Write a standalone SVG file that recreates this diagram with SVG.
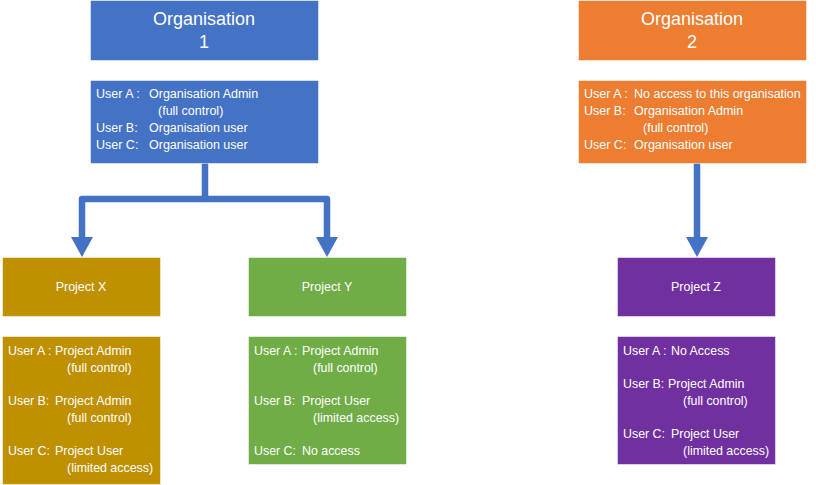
<svg xmlns="http://www.w3.org/2000/svg" width="816" height="485" viewBox="0 0 816 485">
<style>
  text { font-family: "Liberation Sans", Arial, sans-serif; fill: #ffffff; }
  .title { font-size: 18px; text-anchor: middle; }
  .det { font-size: 12.5px; }
  .pt { font-size: 12.5px; text-anchor: middle; }
  .pd { font-size: 12.4px; }
  .box { stroke: #ffffff; stroke-opacity: 0.5; stroke-width: 1; }
  .blue { fill: #4472C4; }
  .orange { fill: #ED7D31; }
  .gold { fill: #BF9000; }
  .green { fill: #70AD47; }
  .purple { fill: #7030A0; }
  .conn { fill: none; stroke: #4472C4; stroke-width: 6.5; stroke-linejoin: round; }
  .head { fill: #4472C4; }
</style>
<rect width="816" height="485" fill="#ffffff"/>
<g id="connectors">
  <path class="conn" d="M205,163 V199 H82 V240"/>
  <path class="conn" d="M205,199 H327 V240"/>
  <path class="conn" d="M697,163 V240"/>
  <polygon class="head" points="71,237 93,237 82,257"/>
  <polygon class="head" points="316,237 338,237 327,257"/>
  <polygon class="head" points="686,237 708,237 697,257"/>
</g>
<g id="org1">
  <rect class="box blue" x="90.5" y="0.5" width="228" height="60"/>
  <text class="title" x="204" y="25">Organisation</text>
  <text class="title" x="204" y="48">1</text>
</g>
<g id="org1-users">
  <rect class="box blue" x="90.5" y="80.5" width="228" height="83"/>
  <text class="det" x="96" y="98">User A :</text>
  <text class="det" x="149" y="98">Organisation Admin</text>
  <text class="det" x="158" y="115">(full control)</text>
  <text class="det" x="96" y="132">User B:</text>
  <text class="det" x="149" y="132">Organisation user</text>
  <text class="det" x="96" y="149">User C:</text>
  <text class="det" x="149" y="149">Organisation user</text>
</g>
<g id="org2">
  <rect class="box orange" x="578.5" y="0.5" width="228" height="60"/>
  <text class="title" x="692" y="25">Organisation</text>
  <text class="title" x="692" y="48">2</text>
</g>
<g id="org2-users">
  <rect class="box orange" x="578.5" y="80.5" width="228" height="83"/>
  <text class="det" x="584" y="98">User A :</text>
  <text class="det" x="634" y="98">No access to this organisation</text>
  <text class="det" x="584" y="115">User B:</text>
  <text class="det" x="634" y="115">Organisation Admin</text>
  <text class="det" x="643" y="132">(full control)</text>
  <text class="det" x="584" y="149">User C:</text>
  <text class="det" x="634" y="149">Organisation user</text>
</g>
<g id="projectX">
  <rect class="box gold" x="2.5" y="257.5" width="158" height="59"/>
  <text class="pt" x="81" y="291">Project X</text>
</g>
<g id="projectX-users">
  <rect class="box gold" x="2.5" y="336.5" width="158" height="148"/>
  <text class="pd" x="8" y="355">User A :</text>
  <text class="pd" x="55" y="355">Project Admin</text>
  <text class="pd" x="67" y="372">(full control)</text>
  <text class="pd" x="8" y="405">User B:</text>
  <text class="pd" x="55" y="405">Project Admin</text>
  <text class="pd" x="67" y="422">(full control)</text>
  <text class="pd" x="8" y="455">User C:</text>
  <text class="pd" x="55" y="455">Project User</text>
  <text class="pd" x="67" y="472">(limited access)</text>
</g>
<g id="projectY">
  <rect class="box green" x="248.5" y="257.5" width="158" height="59"/>
  <text class="pt" x="327" y="291">Project Y</text>
</g>
<g id="projectY-users">
  <rect class="box green" x="248.5" y="336.5" width="158" height="128"/>
  <text class="pd" x="254" y="355">User A :</text>
  <text class="pd" x="302" y="355">Project Admin</text>
  <text class="pd" x="313" y="372">(full control)</text>
  <text class="pd" x="254" y="405">User B:</text>
  <text class="pd" x="302" y="405">Project User</text>
  <text class="pd" x="313" y="422">(limited access)</text>
  <text class="pd" x="254" y="455">User C:</text>
  <text class="pd" x="302" y="455">No access</text>
</g>
<g id="projectZ">
  <rect class="box purple" x="617.5" y="257.5" width="158" height="59"/>
  <text class="pt" x="696" y="291">Project Z</text>
</g>
<g id="projectZ-users">
  <rect class="box purple" x="617.5" y="336.5" width="158" height="128"/>
  <text class="pd" x="623" y="355">User A :</text>
  <text class="pd" x="671" y="355">No Access</text>
  <text class="pd" x="623" y="388">User B:</text>
  <text class="pd" x="668" y="388">Project Admin</text>
  <text class="pd" x="683" y="405">(full control)</text>
  <text class="pd" x="623" y="438">User C:</text>
  <text class="pd" x="671" y="438">Project User</text>
  <text class="pd" x="683" y="455">(limited access)</text>
</g>
</svg>
